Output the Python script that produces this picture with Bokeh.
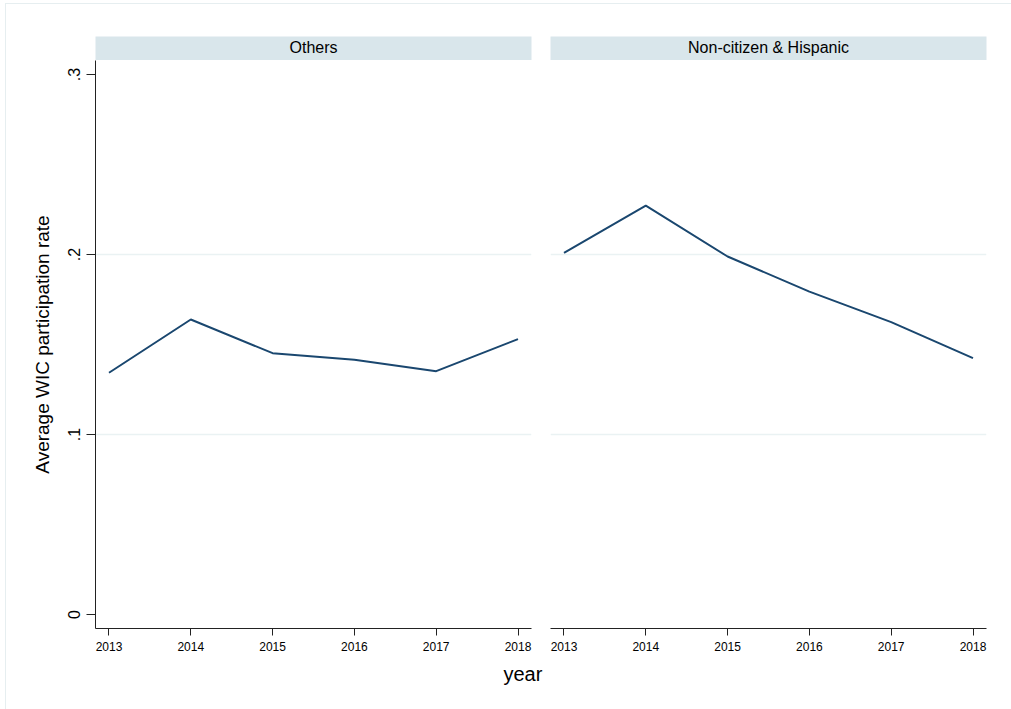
from bokeh.plotting import figure
from bokeh.layouts import row, column
from bokeh.models import FixedTicker, Label, Range1d, Title
from bokeh.embed import file_html
from bokeh.resources import INLINE

# Average WIC participation rate by year, for two groups
years = [2013, 2014, 2015, 2016, 2017, 2018]
others = [0.1343, 0.1639, 0.1452, 0.1415, 0.1352, 0.1530]
noncitizen_hispanic = [0.2009, 0.2272, 0.1989, 0.1794, 0.1624, 0.1424]

panel_titles = ["Others", "Non-citizen & Hispanic"]
y_ticks = [0, 0.1, 0.2, 0.3]
y_tick_labels = ["0", ".1", ".2", ".3"]
y_grid_values = [0.1, 0.2]
x_title = "year"
y_title = "Average WIC participation rate"

FONT = "Liberation Sans"
NAVY = "#1a476f"
STRIP = "#d9e6eb"
GRID = "#eaf2f3"
AXIS = "#222222"
FRAME_LINE = "#e6eef0"

X_RANGE = (2012.835, 2018.165)
Y_RANGE = (-0.0078, 0.3078)


def make_strip(title, width, left, right):
    p = figure(width=width, height=60, x_range=Range1d(0, 1), y_range=Range1d(0, 1),
               min_border_left=left, min_border_right=right,
               min_border_top=36, min_border_bottom=0,
               x_axis_location=None, y_axis_location=None,
               toolbar_location=None, output_backend="svg",
               background_fill_color=STRIP, border_fill_color=None,
               outline_line_color=None)
    p.grid.visible = False
    p.add_layout(Label(x=0.5, y=0.53, text=title, text_align="center",
                       text_baseline="middle", text_font=FONT,
                       text_font_size="16px", text_color="black"))
    return p


def make_panel(values, width, left, right, show_yaxis):
    p = figure(width=width, height=649,
               x_range=Range1d(*X_RANGE), y_range=Range1d(*Y_RANGE),
               min_border_left=left, min_border_right=right,
               min_border_top=0, min_border_bottom=81,
               y_axis_location="left" if show_yaxis else None,
               toolbar_location=None, output_backend="svg",
               background_fill_color=None, border_fill_color=None,
               outline_line_color=None)
    p.line(years, values, line_color=NAVY, line_width=2)

    p.xgrid.visible = False
    p.ygrid.ticker = FixedTicker(ticks=y_grid_values)
    p.ygrid.grid_line_color = GRID
    p.ygrid.grid_line_width = 1.5

    xa = p.xaxis[0]
    xa.ticker = FixedTicker(ticks=years)
    xa.axis_line_color = AXIS
    xa.major_tick_line_color = AXIS
    xa.major_tick_out = 7
    xa.major_tick_in = 0
    xa.minor_tick_line_color = None
    xa.major_label_standoff = 6
    xa.major_label_text_font = FONT
    xa.major_label_text_font_size = "12px"
    xa.major_label_text_color = "black"

    if show_yaxis:
        ya = p.yaxis[0]
        ya.ticker = FixedTicker(ticks=y_ticks)
        ya.major_label_overrides = dict(zip(y_ticks, y_tick_labels))
        ya.major_label_orientation = "vertical"
        ya.axis_line_color = AXIS
        ya.major_tick_line_color = AXIS
        ya.major_tick_out = 9
        ya.major_tick_in = 0
        ya.minor_tick_line_color = None
        ya.major_label_standoff = 6
        ya.major_label_text_font = FONT
        ya.major_label_text_font_size = "16px"
        ya.major_label_text_color = "black"
    return p


strip_l = make_strip(panel_titles[0], 545, 95, 14)
strip_r = make_strip(panel_titles[1], 466, 4, 24)
panel_l = make_panel(others, 545, 95, 14, True)
panel_r = make_panel(noncitizen_hispanic, 466, 5, 25, False)

# shared axis titles, attached to the left panel
panel_l.add_layout(Title(text=x_title, align="left", offset=408, standoff=14,
                         text_font=FONT, text_font_size="20px",
                         text_font_style="normal", text_color="black"), "below")
panel_l.add_layout(Title(text=y_title, align="center", standoff=26,
                         text_font=FONT, text_font_size="19px",
                         text_font_style="normal", text_color="black"), "left")

layout = row(
    column(strip_l, panel_l),
    column(strip_r, panel_r),
    styles={
        "background": (
            f"linear-gradient({FRAME_LINE},{FRAME_LINE}) 5px 3px / 1px 100% no-repeat, "
            f"linear-gradient({FRAME_LINE},{FRAME_LINE}) 5px 3px / 100% 1px no-repeat, white"
        )
    },
)

open("out.html", "w").write(file_html(layout, INLINE))
